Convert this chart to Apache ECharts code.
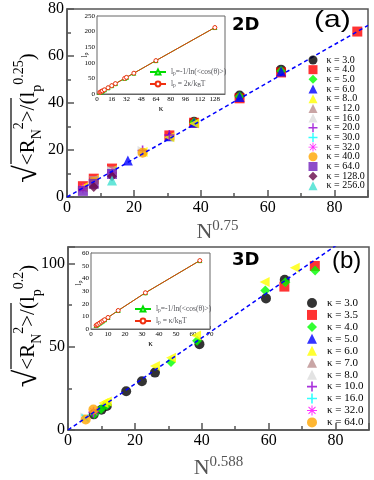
<!DOCTYPE html>
<html>
<head>
<meta charset="utf-8">
<script src="https://cdn.jsdelivr.net/npm/echarts@6/dist/echarts.min.js"></script>
<style>
  html, body { margin: 0; background: #fff; }
  #chart { width: 374px; height: 480px; }
</style>
</head>
<body>
<div id="chart"></div>
<script>
// ---- panel (a): 2D ----
const kappa2D = ['3.0', '4.0', '5.0', '6.0', '8..0', '12.0', '16.0', '20.0', '30.0', '32.0', '40.0', '64.0', '128.0', '256.0'];
const points2D = [
  [[38.0, 32.0], [51.6, 43.2], [64.0, 54.2]],
  [[4.76, 4.6], [8.0, 7.8], [13.45, 12.1], [30.6, 26.2], [38.0, 31.6], [51.6, 42.0], [64.0, 53.0], [86.8, 70.4]],
  [[38.0, 31.8], [51.6, 42.8], [64.0, 53.6]],
  [[18.2, 15.5], [30.6, 25.8], [38.0, 31.6], [51.6, 42.6], [64.0, 53.4]],
  [[4.76, 4.1], [8.0, 7.3], [13.45, 11.4], [22.6, 19.2], [30.6, 25.4], [38.0, 31.3]],
  [[8.0, 6.8], [13.45, 10.8]],
  [[13.45, 11.0], [22.6, 19.6]],
  [[22.6, 19.8], [30.6, 26.4]],
  [[13.45, 10.4]],
  [[4.76, 3.7], [13.45, 10.2]],
  [[8.0, 6.4], [22.6, 18.8]],
  [[4.76, 2.6], [8.0, 5.6], [13.45, 9.8]],
  [[8.0, 4.3], [13.45, 8.8]],
  [[13.45, 7.0]]
];
const fit2D = [[0, 0], [90, 73]];
const insetKappa2D = [3, 4, 5, 6, 8, 12, 16, 20, 30, 32, 40, 64, 128];
const insetLpCos2D = [5, 6.7, 8.3, 10, 13.3, 20, 26.7, 33.3, 50, 53.3, 66.7, 107, 213];
const insetLpK2D = [5, 6.7, 8.3, 10, 13.3, 20, 26.7, 33.3, 50, 53.3, 66.7, 107, 213];

// ---- panel (b): 3D ----
const kappa3D = ['3.0', '3.5', '4.0', '5.0', '6.0', '7.0', '8.0', '10.0', '16.0', '32.0', '64.0'];
const points3D = [
  [[7.7, 9.4], [10.0, 12.2], [11.6, 14.4], [17.4, 23.3], [22.1, 29.3], [26.0, 34.5], [39.3, 51.6], [59.2, 79.1], [64.8, 90.3]],
  [[64.7, 86.2], [73.8, 98.6]],
  [[7.9, 9.6], [9.9, 12.6], [11.6, 15.0], [30.8, 40.9], [38.6, 53.6], [59.0, 83.9], [65.0, 88.8], [73.9, 95.9]],
  [],
  [[10.6, 16.2], [11.6, 17.2], [26.0, 38.4], [30.8, 43.4], [38.3, 56.8], [58.8, 88.9], [67.8, 97.5]],
  [],
  [[5.2, 7.5]],
  [[7.6, 10.5]],
  [[5.1, 7.2]],
  [[7.7, 11.0]],
  [[5.3, 6.3], [7.6, 12.3]]
];
const fit3D = [[0, 0], [90, 124.6]];
const insetKappa3D = [3, 3.5, 4, 5, 6, 7, 8, 10, 16, 32, 64];
const insetLpCos3D = [2.8, 3.3, 3.7, 4.6, 5.5, 6.4, 7.3, 9.1, 14.6, 28.6, 54];
const insetLpK3D = [2.8, 3.3, 3.7, 4.6, 5.5, 6.4, 7.3, 9.1, 14.6, 28.6, 54];

// grace-like symbols and colours
const PLUS = 'path://M42,0H58V42H100V58H58V100H42V58H0V42H42Z';
const STAR = 'path://M45,0H55V100H45Z M0,45H100V55H0Z M18.5,11.5L88.5,81.5L81.5,88.5L11.5,18.5Z M81.5,11.5L88.5,18.5L18.5,88.5L11.5,81.5Z';
const marks = [
  ['circle', 0, '#000000'], ['rect', 0, '#ff0000'], ['diamond', 0, '#00ff00'], ['triangle', 0, '#0000ff'],
  ['triangle', 90, '#ffff00'], ['triangle', 180, '#bc8f8f'], ['triangle', -90, '#dcdcdc'], [PLUS, 0, '#9400d3'],
  [PLUS, 45, '#00ffff'], [STAR, 0, '#ff00ff'], ['circle', 0, '#ffa500'], ['rect', 0, '#7221bc'],
  ['diamond', 0, '#670748'], ['triangle', 0, '#40e0d0']
];

const serif = 'Liberation Serif';
const axisColor = '#555';

function mainAxis(idx, max, interval, showMax) {
  return {
    type: 'value', gridIndex: idx, min: 0, max: max, interval: interval,
    axisLine: { onZero: false, lineStyle: { color: axisColor, width: 1.5 } },
    axisTick: { inside: true, length: 7, lineStyle: { color: axisColor, width: 1.5 } },
    minorTick: { show: true, splitNumber: 2, length: 4, lineStyle: { color: axisColor, width: 1.5 } },
    axisLabel: { fontFamily: serif, fontSize: 16, color: '#000', margin: 3, showMaxLabel: showMax },
    splitLine: { show: false }
  };
}
function insetAxis(idx, max, interval, showMax) {
  return {
    type: 'value', gridIndex: idx, min: 0, max: max, interval: interval,
    axisLine: { onZero: false, lineStyle: { color: '#666', width: 1 } },
    axisTick: { inside: true, length: 3, lineStyle: { color: '#666', width: 1 } },
    axisLabel: { fontFamily: serif, fontSize: 7, color: '#000', margin: 2, showMaxLabel: showMax },
    splitLine: { show: false }
  };
}

const series = [];
kappa2D.forEach((k, i) => {
  series.push({
    name: 'κ = ' + k, type: 'scatter', xAxisIndex: 0, yAxisIndex: 0,
    symbol: marks[i][0], symbolRotate: marks[i][1], symbolSize: 10,
    itemStyle: { color: marks[i][2] }, data: points2D[i]
  });
});
series.push({
  type: 'line', xAxisIndex: 0, yAxisIndex: 0, data: fit2D, showSymbol: false, z: 3,
  lineStyle: { color: '#0000ff', width: 1.5, type: [4, 3] }
});
kappa3D.forEach((k, i) => {
  series.push({
    name: 'b κ = ' + k, type: 'scatter', xAxisIndex: 1, yAxisIndex: 1,
    symbol: marks[i][0], symbolRotate: marks[i][1], symbolSize: 10,
    itemStyle: { color: marks[i][2] }, data: points3D[i]
  });
});
series.push({
  type: 'line', xAxisIndex: 1, yAxisIndex: 1, data: fit3D, showSymbol: false, z: 3,
  lineStyle: { color: '#0000ff', width: 1.5, type: [4, 3] }
});

function insetSeries(name, axis, xs, ys, symbol, color) {
  return {
    name: name, type: 'line', xAxisIndex: axis, yAxisIndex: axis, z: 5,
    data: xs.map((x, i) => [x, ys[i]]),
    symbol: symbol, symbolSize: 4, showSymbol: true,
    itemStyle: { color: '#fff', borderColor: color, borderWidth: 1 },
    lineStyle: { color: color, width: 1 }
  };
}
series.push(insetSeries('aCos', 2, insetKappa2D, insetLpCos2D, 'triangle', '#00dd00'));
series.push(insetSeries('aK', 2, insetKappa2D, insetLpK2D, 'circle', '#f03010'));
series.push(insetSeries('bCos', 3, insetKappa3D, insetLpCos3D, 'triangle', '#00dd00'));
series.push(insetSeries('bK', 3, insetKappa3D, insetLpK3D, 'circle', '#f03010'));

const labRich = {
  sq: { fontFamily: serif, fontSize: 32, lineHeight: 32 },
  m: { fontFamily: serif, fontSize: 21, lineHeight: 32 },
  sb: { fontFamily: serif, fontSize: 14, lineHeight: 14, verticalAlign: 'bottom' },
  sp: { fontFamily: serif, fontSize: 14, lineHeight: 14, verticalAlign: 'top' }
};
const insRich = {
  t: { fontFamily: serif, fontSize: 7.5, lineHeight: 10 },
  s: { fontFamily: serif, fontSize: 5.5, lineHeight: 6, verticalAlign: 'bottom' }
};
const nameRich = {
  n: { fontFamily: serif, fontSize: 22, lineHeight: 26 },
  s: { fontFamily: serif, fontSize: 15, lineHeight: 15, verticalAlign: 'top' }
};

const chart = echarts.init(document.getElementById('chart'));
chart.setOption({
  animation: false,
  backgroundColor: '#fff',
  grid: [
    { left: 67, right: 6, top: 9, bottom: 283, show: true, borderColor: axisColor, borderWidth: 1.5 },
    { left: 68, right: 5, top: 247, bottom: 44, show: true, borderColor: axisColor, borderWidth: 1.5 },
    { left: 97, right: 149, top: 16, bottom: 386, show: true, backgroundColor: '#fff', borderColor: '#666', borderWidth: 1, z: 4 },
    { left: 91, right: 164, top: 253, bottom: 151, show: true, backgroundColor: '#fff', borderColor: '#666', borderWidth: 1, z: 4 }
  ],
  xAxis: [
    Object.assign(mainAxis(0, 90, 20, false), { name: '{n|N}{s|0.75}', nameLocation: 'middle', nameGap: 22, nameTextStyle: { rich: nameRich } }),
    Object.assign(mainAxis(1, 90, 20, false), { name: '{n|N}{s|0.588}', nameLocation: 'middle', nameGap: 25, nameTextStyle: { rich: nameRich } }),
    Object.assign(insetAxis(2, 139, 16, false), { name: 'κ', nameLocation: 'middle', nameGap: 9, nameTextStyle: { fontFamily: serif, fontSize: 9, color: '#000' } }),
    Object.assign(insetAxis(3, 70, 10, true), { name: 'κ', nameLocation: 'middle', nameGap: 9, nameTextStyle: { fontFamily: serif, fontSize: 9, color: '#000' } })
  ],
  yAxis: [
    mainAxis(0, 80, 20, true),
    mainAxis(1, 110, 50, false),
    insetAxis(2, 250, 50, true),
    insetAxis(3, 60, 10, true)
  ],
  legend: [
    {
      orient: 'vertical', left: 308.5, top: 55, padding: 0, itemWidth: 9, itemHeight: 9, itemGap: -0.32,
      selectedMode: false, data: kappa2D.map(k => 'κ = ' + k),
      textStyle: { fontFamily: serif, fontSize: 10, color: '#000', padding: [0, 0, 0, 4] }
    },
    {
      orient: 'vertical', left: 307, top: 297.5, padding: 0, itemWidth: 10, itemHeight: 10, itemGap: 0.94,
      selectedMode: false, data: kappa3D.map(k => 'b κ = ' + k),
      formatter: n => n.slice(2),
      textStyle: { fontFamily: serif, fontSize: 11, color: '#000', padding: [0, 0, 0, 5] }
    },
    {
      orient: 'vertical', left: 149, top: 68, padding: 0, itemWidth: 16, itemHeight: 6, itemGap: 3,
      selectedMode: false, data: ['aCos', 'aK'], z: 6,
      formatter: n => n === 'aCos' ? '{t|l}{s|p}{t|=-1/ln(<cos(θ)>)}' : '{t|l}{s|p}{t| = 2κ/k}{s|B}{t|T}',
      textStyle: { rich: insRich }
    },
    {
      orient: 'vertical', left: 134, top: 305, padding: 0, itemWidth: 16, itemHeight: 6, itemGap: 3,
      selectedMode: false, data: ['bCos', 'bK'], z: 6,
      formatter: n => n === 'bCos' ? '{t|l}{s|p}{t|=-1/ln(<cos(θ)>)}' : '{t|l}{s|p}{t| = κ/k}{s|B}{t|T}',
      textStyle: { rich: insRich }
    }
  ],
  graphic: [
    { type: 'text', x: 28, y: 118, rotation: Math.PI / 2, style: { text: '{sq|√}{m|<R}{sb|N}{sp|2}{m|>/(l}{sb|p}{sp|0.25}{m|)}', rich: labRich, align: 'center', verticalAlign: 'middle' } },
    { type: 'line', shape: { x1: 11, y1: 164, x2: 11, y2: 98 }, style: { stroke: '#000', lineWidth: 1.2 } },
    { type: 'text', x: 28, y: 326, rotation: Math.PI / 2, style: { text: '{sq|√}{m|<R}{sb|N}{sp|2}{m|>/(l}{sb|p}{sp|0.2}{m|)}', rich: labRich, align: 'center', verticalAlign: 'middle' } },
    { type: 'line', shape: { x1: 11, y1: 369, x2: 11, y2: 303 }, style: { stroke: '#000', lineWidth: 1.2 } },
    { type: 'text', x: 85, y: 55, rotation: Math.PI / 2, z: 10, style: { text: '{t|l}{s|p}', rich: insRich, align: 'center', verticalAlign: 'middle' } },
    { type: 'text', x: 79, y: 283, rotation: Math.PI / 2, z: 10, style: { text: '{t|l}{s|p}', rich: insRich, align: 'center', verticalAlign: 'middle' } },
    { type: 'text', x: 232, y: 25, style: { text: '2D', font: 'bold 18px "DejaVu Sans"', fill: '#000', verticalAlign: 'middle' } },
    { type: 'text', x: 232, y: 260, style: { text: '3D', font: 'bold 18px "DejaVu Sans"', fill: '#000', verticalAlign: 'middle' } },
    { type: 'text', x: 314, y: 20, scaleX: 1.25, style: { text: '(a)', font: '24px "Liberation Sans"', fill: '#000', verticalAlign: 'middle' } },
    { type: 'text', x: 332, y: 261, style: { text: '(b)', font: '24px "Liberation Sans"', fill: '#000', verticalAlign: 'middle' } }
  ],
  series: series
});
</script>
</body>
</html>
